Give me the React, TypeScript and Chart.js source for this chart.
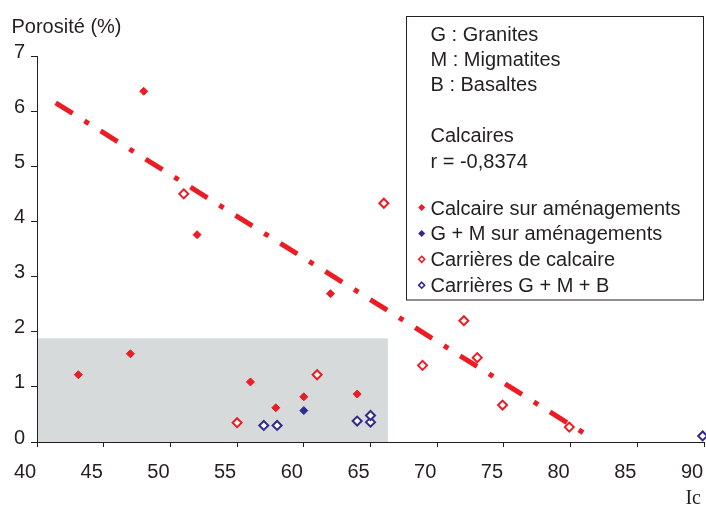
import React, { useEffect, useRef } from "react";
import { Chart, registerables } from "chart.js";

Chart.register(...registerables);

// ---- data ----
const calcAmX = [48.0, 52.0, 62.0, 43.1, 47.0, 56.0, 57.9, 60.0, 64.0];
const calcAmY = [6.36, 3.76, 2.69, 1.22, 1.6, 1.09, 0.62, 0.82, 0.87];

const gmAmX = [60.0];
const gmAmY = [0.57];

const carCalcX = [51.0, 66.0, 72.0, 68.9, 73.0, 74.9, 79.9, 55.0, 61.0];
const carCalcY = [4.5, 4.33, 2.2, 1.39, 1.53, 0.67, 0.27, 0.35, 1.22];

const carGmbX = [57.0, 58.0, 64.0, 65.0, 65.0, 89.9];
const carGmbY = [0.3, 0.3, 0.38, 0.36, 0.48, 0.11];

const trendX = [41.4, 81.0];
const trendY = [6.15, 0.16];

const shadeX = [40, 66.3];
const shadeY = [0, 1.88];

const seriesLabels = [
  "Calcaire sur aménagements",
  "G + M sur aménagements",
  "Carrières de calcaire",
  "Carrières G + M + B",
];
const infoLines = ["G : Granites", "M : Migmatites", "B : Basaltes", "", "Calcaires", "r = -0,8374"];
const yTitle = "Porosité (%)";
const xTitle = "Ic";

const RED = "#ec1c24";
const BLUE = "#302a8e";
const TEXT = "#231f20";
const FONT = "'Liberation Sans', Arial, Helvetica, sans-serif";

const pts = (xs: number[], ys: number[]) => xs.map((x, i) => ({ x, y: ys[i] }));

function diamond(ctx: CanvasRenderingContext2D, x: number, y: number, r: number) {
  ctx.beginPath();
  ctx.moveTo(x, y - r);
  ctx.lineTo(x + r, y);
  ctx.lineTo(x, y + r);
  ctx.lineTo(x - r, y);
  ctx.closePath();
}

const decorPlugin = {
  id: "decor",
  beforeDraw(chart: any) {
    const { ctx, scales } = chart;
    const xs = scales.x, ys = scales.y;
    ctx.save();
    ctx.fillStyle = "#ffffff";
    ctx.fillRect(0, 0, chart.width, chart.height);
    ctx.fillStyle = "#d6dadb";
    const x0 = xs.getPixelForValue(shadeX[0]);
    const x1 = xs.getPixelForValue(shadeX[1]);
    const y0 = ys.getPixelForValue(shadeY[0]);
    const y1 = ys.getPixelForValue(shadeY[1]);
    ctx.fillRect(x0, y1, x1 - x0, y0 - y1);
    ctx.restore();
  },
  afterDraw(chart: any) {
    const { ctx } = chart;
    ctx.save();
    ctx.fillStyle = TEXT;
    ctx.textBaseline = "alphabetic";
    ctx.textAlign = "left";
    ctx.font = `20px ${FONT}`;
    ctx.fillText(yTitle, 11.5, 32.5);

    ctx.font = `20px 'Liberation Serif', 'Times New Roman', serif`;
    ctx.textAlign = "right";
    ctx.fillText(xTitle, 701, 504);

    // legend box
    const bx = 406.5, by = 16.5, bw = 297, bh = 283.5;
    ctx.fillStyle = "#ffffff";
    ctx.fillRect(bx, by, bw, bh);
    ctx.strokeStyle = TEXT;
    ctx.lineWidth = 1;
    ctx.strokeRect(bx, by, bw, bh);

    ctx.fillStyle = TEXT;
    ctx.textAlign = "left";
    ctx.font = `20px ${FONT}`;
    infoLines.forEach((t, i) => {
      if (t) ctx.fillText(t, 430.5, 40.5 + i * 25.4);
    });
    const ds = chart.data.datasets.filter((d: any) => d.type !== "line");
    ds.forEach((d: any, i: number) => {
      const base = 214.5 + i * 25.9;
      ctx.fillStyle = TEXT;
      ctx.fillText(d.label, 430.5, base);
      const cx = 421.7, cy = base - 7;
      if (d.pointBackgroundColor === "#ffffff") {
        diamond(ctx, cx, cy, 3);
        ctx.fillStyle = "#ffffff";
        ctx.fill();
        ctx.strokeStyle = d.pointBorderColor;
        ctx.lineWidth = 1.6;
        ctx.stroke();
      } else {
        diamond(ctx, cx, cy, 3.5);
        ctx.fillStyle = d.pointBackgroundColor;
        ctx.fill();
      }
    });
    ctx.restore();
  },
};

export default function App() {
  const ref = useRef<HTMLCanvasElement | null>(null);
  useEffect(() => {
    if (!ref.current) return;
    const filled = (label: string, c: string, data: any) => ({
      type: "scatter" as const,
      label,
      data,
      pointStyle: "rectRot",
      pointRadius: 4,
      pointBorderWidth: 1,
      pointBackgroundColor: c,
      pointBorderColor: c,
      clip: false,
      order: 0,
    });
    const open = (label: string, c: string, data: any) => ({
      type: "scatter" as const,
      label,
      data,
      pointStyle: "rectRot",
      pointRadius: 4.5,
      pointBorderWidth: 2,
      pointBackgroundColor: "#ffffff",
      pointBorderColor: c,
      clip: false,
      order: 0,
    });
    const chart = new Chart(ref.current, {
      type: "scatter",
      data: {
        datasets: [
          filled(seriesLabels[0], RED, pts(calcAmX, calcAmY)),
          filled(seriesLabels[1], BLUE, pts(gmAmX, gmAmY)),
          open(seriesLabels[2], RED, pts(carCalcX, carCalcY)),
          open(seriesLabels[3], BLUE, pts(carGmbX, carGmbY)),
          {
            type: "line",
            label: "trend",
            data: pts(trendX, trendY),
            borderColor: RED,
            borderWidth: 5,
            borderDash: [20, 14, 5, 14],
            borderCapStyle: "butt",
            pointRadius: 0,
            showLine: true,
            fill: false,
            order: 10,
          } as any,
        ],
      },
      options: {
        responsive: false,
        animation: false,
        layout: { autoPadding: false, padding: { top: 56, right: 2, left: 0, bottom: 0 } },
        plugins: { legend: { display: false }, tooltip: { enabled: false }, title: { display: false } },
        scales: {
          x: {
            type: "linear",
            min: 40,
            max: 90,
            afterFit: (s: any) => { s.height = 65; s.paddingLeft = 0; s.paddingRight = 0; },
            grid: { drawOnChartArea: false, drawTicks: true, tickLength: 5, color: TEXT },
            border: { display: true, color: TEXT, width: 1 },
            ticks: {
              stepSize: 5,
              padding: 13,
              labelOffset: -12,
              color: TEXT,
              font: { family: FONT, size: 20 },
              maxRotation: 0,
              autoSkip: false,
            },
          },
          y: {
            type: "linear",
            min: 0,
            max: 7,
            afterFit: (s: any) => { s.width = 37; s.paddingTop = 0; s.paddingBottom = 0; },
            grid: { drawOnChartArea: false, drawTicks: true, tickLength: 6, color: TEXT },
            border: { display: true, color: TEXT, width: 1 },
            ticks: {
              stepSize: 1,
              padding: 6,
              labelOffset: -4,
              color: TEXT,
              font: { family: FONT, size: 20 },
            },
          },
        },
      } as any,
      plugins: [decorPlugin],
    });
    return () => chart.destroy();
  }, []);
  return (
    <div style={{ position: "absolute", left: 0, top: 0, width: 706, height: 507, background: "#fff" }}>
      <canvas ref={ref} width={706} height={507} style={{ display: "block", width: 706, height: 507 }} />
    </div>
  );
}
